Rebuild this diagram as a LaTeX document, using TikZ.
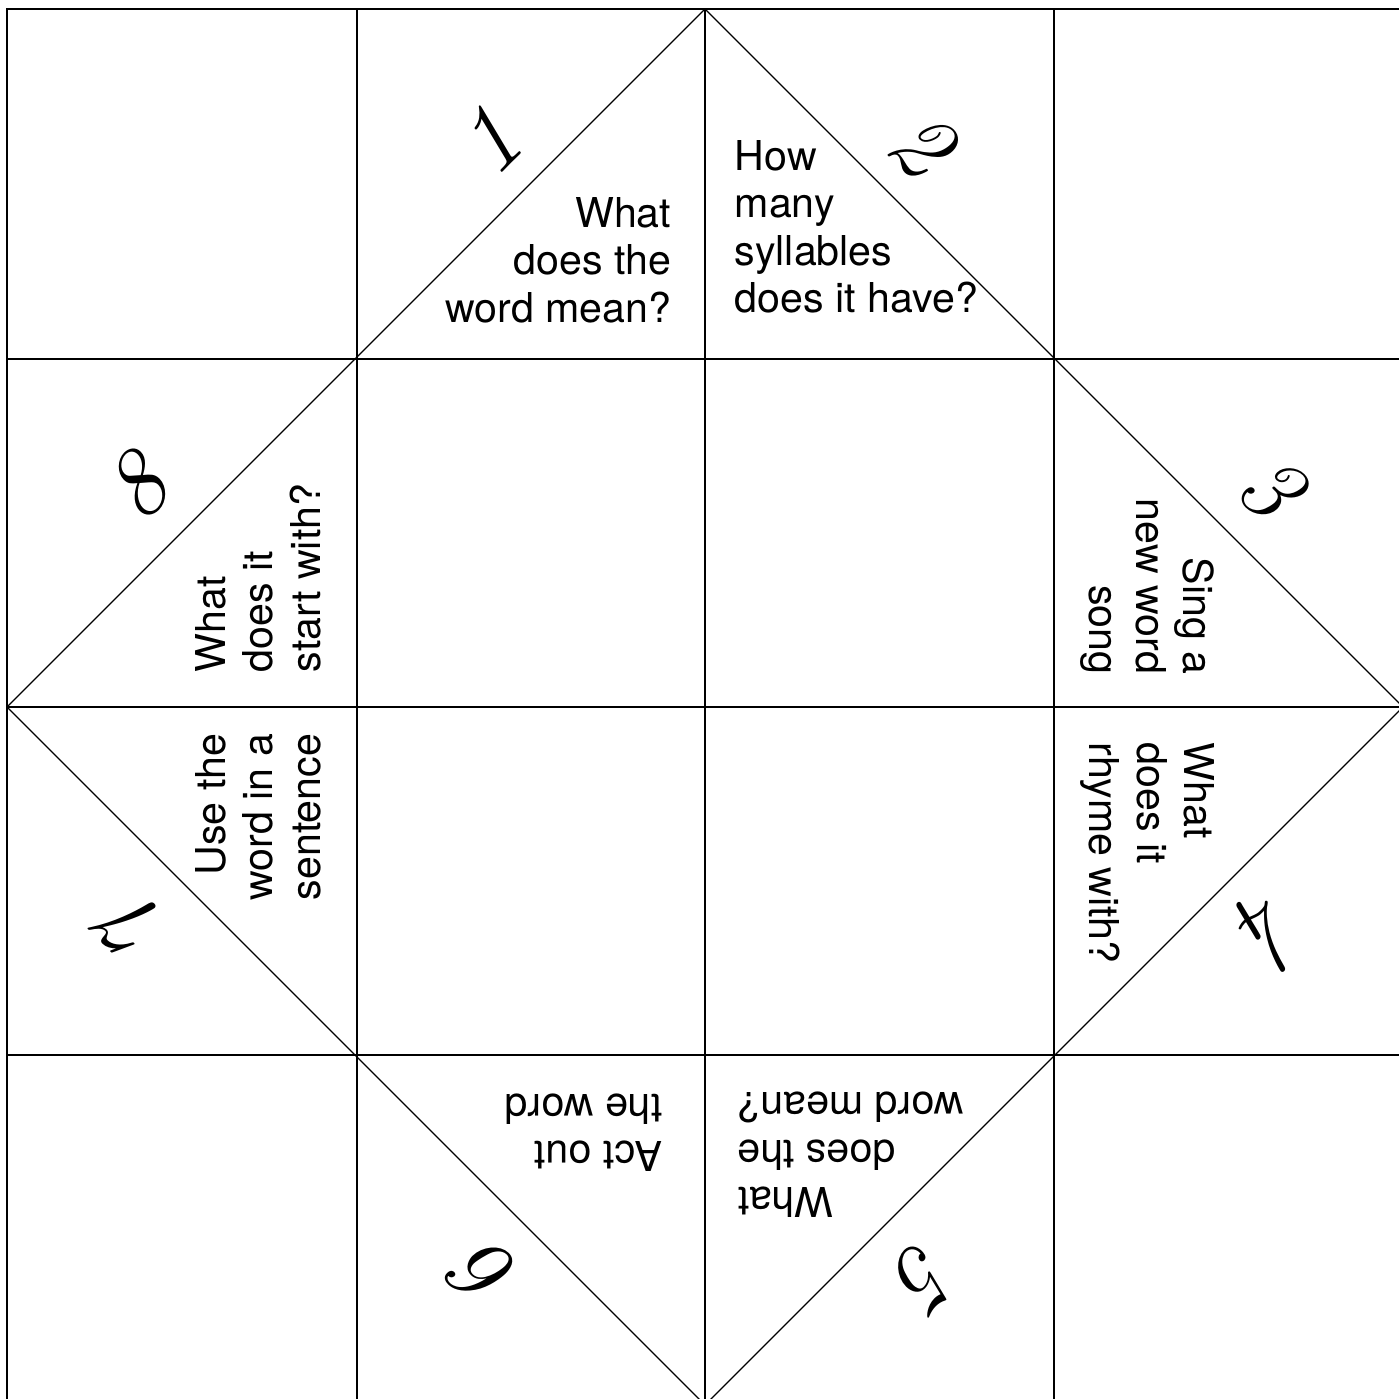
\documentclass[tikz,border=0pt]{standalone}
\usepackage{fontspec}
\setsansfont{TeX Gyre Heros}
\usetikzlibrary{positioning}
\tikzset{
  every picture/.style={font=\sffamily, line width=0.45pt, x=0.01cm, y=-0.01cm},
  prompt/.style={font=\sffamily\fontsize{11.7}{13.4}\selectfont, inner sep=0pt, align=#1},
  prompt/.default=left,
  numeral/.style={font=\rmfamily\itshape\fontsize{27}{27}\selectfont, inner sep=0pt},
  fold/.style={line width=0.35pt},
  rim/.style={line width=0.75pt},
}

\begin{document}
\begin{tikzpicture}
  \clip (0,0) rectangle (1399,1399);
  \coordinate (top) at (705,9);
  \coordinate (right) at (1403,707);
  \coordinate (bottom) at (705,1405);
  \coordinate (left) at (7,707);
  \draw[rim] (7,9) rectangle (1403,1405);
  \foreach \x in {357,705,1054} \draw (\x,9) -- (\x,1405);
  \foreach \y in {359,707,1055} \draw (7,\y) -- (1403,\y);
  \draw[fold] (top) -- (right) -- (bottom) -- (left) -- cycle;
  % questions
  \node[prompt=right, anchor=north east] (q1) at (672,197) {What\\does the\\word mean?};
  \node[prompt, anchor=north west] (q2) at (734,140) {How\\many\\syllables\\does it have?};
  \node[prompt=right, anchor=north east, rotate=-90] (q3) at (1215,675) {Sing a\\new word\\song};
  \node[prompt, anchor=north west, rotate=-90] (q4) at (1215,742) {What\\does it\\rhyme with?};
  \node[prompt=right, anchor=north east, rotate=180] (q5) at (737,1218) {What\\does the\\word mean?};
  \node[prompt, anchor=north west, rotate=180] (q6) at (663,1172) {Act out\\the word};
  \node[prompt=right, anchor=north east, rotate=90] (q7) at (195,733) {Use the\\word in a\\sentence};
  \node[prompt, anchor=north west, rotate=90] (q8) at (195,673) {What\\does it\\start with?};
  % numbers
  \node[numeral, rotate=45] (n1) at (489,141) {1};
  \node[numeral, rotate=-45] (n2) at (922,144) {2};
  \node[numeral, rotate=-45] (n3) at (1271,487) {3};
  \node[numeral, rotate=-135] (n4) at (1269,930) {4};
  \node[numeral, rotate=-135] (n5) at (926,1275) {5};
  \node[numeral, rotate=135] (n6) at (486,1276) {6};
  \node[numeral, rotate=135] (n7) at (135,930) {7};
  \node[numeral, rotate=45] (n8) at (137,487) {8};
\end{tikzpicture}
\end{document}
